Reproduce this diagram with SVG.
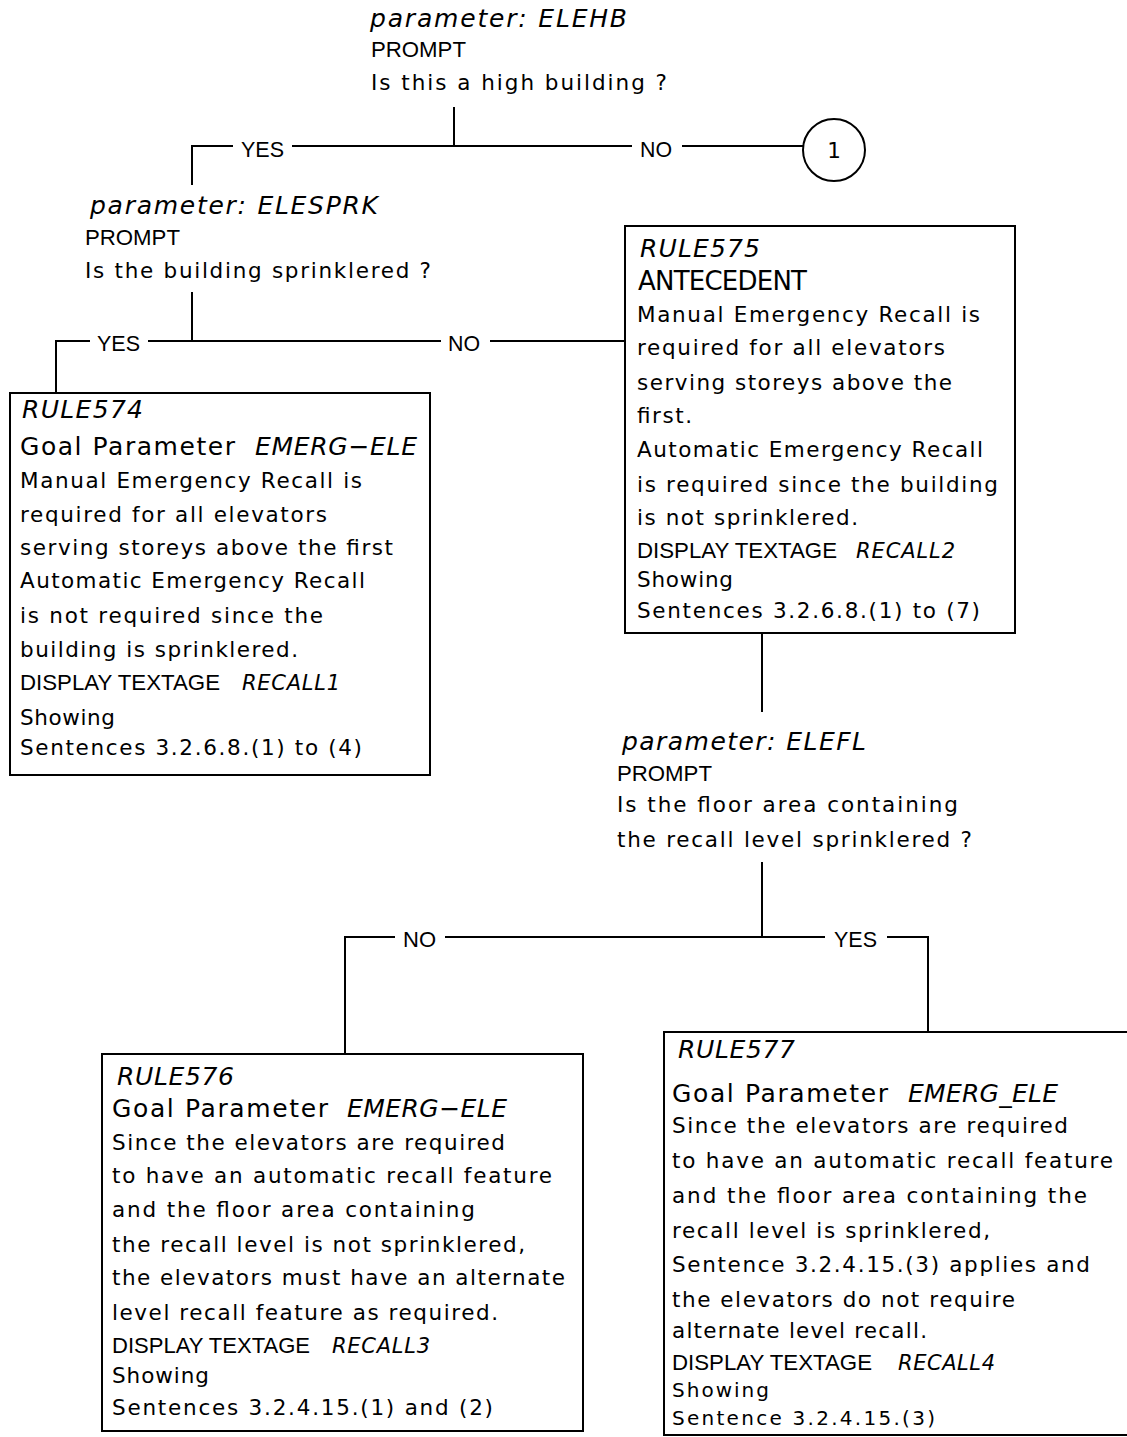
<svg xmlns="http://www.w3.org/2000/svg" width="1127" height="1437" viewBox="0 0 1127 1437">
  <style>
    .bg { fill: #ffffff; }
    .box { fill: none; stroke: #000; stroke-width: 2; }
    .wire { fill: none; stroke: #000; stroke-width: 2; }
    .body { font-family: "DejaVu Sans", "Liberation Sans", sans-serif; font-size: 21.5px; fill: #000; }
    .tight { font-size: 20px; }
    .head { font-family: "DejaVu Sans", "Liberation Sans", sans-serif; font-size: 25px; fill: #000; }
    .big { font-family: "DejaVu Sans", "Liberation Sans", sans-serif; font-size: 26px; fill: #000; }
    .cond { font-family: "Liberation Sans Narrow", "Liberation Sans", sans-serif; font-size: 22px; fill: #000; }
    .ital { font-family: "DejaVu Sans", "Liberation Sans", sans-serif; font-style: italic; font-size: 25px; fill: #000; }
    .itals { font-family: "DejaVu Sans", "Liberation Sans", sans-serif; font-style: italic; font-size: 21px; fill: #000; }
    .lbl { font-family: "Liberation Sans Narrow", "Liberation Sans", sans-serif; font-size: 22px; fill: #000; }
  </style>
  <rect class="bg" x="0" y="0" width="1127" height="1437"/>

  <!-- connectors -->
  <g id="connectors">
    <!-- ELEHB branches -->
    <path class="wire" d="M454,107 V146"/>
    <path class="wire" d="M192,185 V146 H233"/>
    <path class="wire" d="M292,146 H632"/>
    <path class="wire" d="M682,146 H803"/>
    <!-- ELESPRK branches -->
    <path class="wire" d="M192,292 V341"/>
    <path class="wire" d="M56,392 V341 H90"/>
    <path class="wire" d="M148,341 H441"/>
    <path class="wire" d="M490,341 H625"/>
    <!-- RULE575 to ELEFL -->
    <path class="wire" d="M762,633 V712"/>
    <!-- ELEFL branches -->
    <path class="wire" d="M762,862 V937"/>
    <path class="wire" d="M345,1054 V937 H395"/>
    <path class="wire" d="M445,937 H762 H825"/>
    <path class="wire" d="M887,937 H928 V1032"/>
    <!-- branch labels -->
    <text class="lbl" x="241" y="157" textLength="43" lengthAdjust="spacingAndGlyphs">YES</text>
    <text class="lbl" x="640" y="157" textLength="32" lengthAdjust="spacingAndGlyphs">NO</text>
    <text class="lbl" x="97" y="351" textLength="43" lengthAdjust="spacingAndGlyphs">YES</text>
    <text class="lbl" x="448" y="351" textLength="32" lengthAdjust="spacingAndGlyphs">NO</text>
    <text class="lbl" x="403" y="947" textLength="33" lengthAdjust="spacingAndGlyphs">NO</text>
    <text class="lbl" x="834" y="947" textLength="43" lengthAdjust="spacingAndGlyphs">YES</text>
  </g>

  <!-- parameter ELEHB -->
  <g id="param-elehb">
    <text class="ital" x="370" y="27" textLength="257" lengthAdjust="spacing">parameter: ELEHB</text>
    <text class="cond" x="371" y="57" textLength="95" lengthAdjust="spacingAndGlyphs">PROMPT</text>
    <text class="body" x="371" y="90" textLength="296" lengthAdjust="spacing">Is this a high building ?</text>
  </g>

  <!-- off-page connector 1 -->
  <g id="connector-1">
    <circle class="box" cx="834" cy="150" r="31"/>
    <text class="body" x="834" y="158" text-anchor="middle">1</text>
  </g>

  <!-- parameter ELESPRK -->
  <g id="param-elesprk">
    <text class="ital" x="90" y="214" textLength="288" lengthAdjust="spacing">parameter: ELESPRK</text>
    <text class="cond" x="85" y="245" textLength="95" lengthAdjust="spacingAndGlyphs">PROMPT</text>
    <text class="body" x="85" y="278" textLength="346" lengthAdjust="spacing">Is the building sprinklered ?</text>
  </g>

  <!-- RULE574 -->
  <g id="rule574">
    <rect class="box" x="10" y="393" width="420" height="382"/>
    <text class="ital" x="22" y="418" textLength="121" lengthAdjust="spacing">RULE574</text>
    <text class="head" x="20" y="455"><tspan textLength="215" lengthAdjust="spacing">Goal Parameter</tspan><tspan class="ital" x="255" textLength="162" lengthAdjust="spacing">EMERG−ELE</tspan></text>
    <text class="body" x="20" y="488" textLength="342" lengthAdjust="spacing">Manual Emergency Recall is</text>
    <text class="body" x="20" y="522" textLength="307" lengthAdjust="spacing">required for all elevators</text>
    <text class="body" x="20" y="555" textLength="373" lengthAdjust="spacing">serving storeys above the first</text>
    <text class="body" x="20" y="588" textLength="345" lengthAdjust="spacing">Automatic Emergency Recall</text>
    <text class="body" x="20" y="623" textLength="303" lengthAdjust="spacing">is not required since the</text>
    <text class="body" x="20" y="657" textLength="278" lengthAdjust="spacing">building is sprinklered.</text>
    <text class="cond" x="20" y="690" textLength="200" lengthAdjust="spacingAndGlyphs">DISPLAY TEXTAGE</text>
    <text class="itals" x="242" y="690" textLength="98" lengthAdjust="spacing">RECALL1</text>
    <text class="body" x="20" y="725" textLength="95" lengthAdjust="spacing">Showing</text>
    <text class="body" x="20" y="755" textLength="342" lengthAdjust="spacing">Sentences 3.2.6.8.(1) to (4)</text>
  </g>

  <!-- RULE575 -->
  <g id="rule575">
    <rect class="box" x="625" y="226" width="390" height="407"/>
    <text class="ital" x="640" y="257" textLength="120" lengthAdjust="spacing">RULE575</text>
    <text class="big" x="638" y="290" textLength="169" lengthAdjust="spacing">ANTECEDENT</text>
    <text class="body" x="637" y="322" textLength="343" lengthAdjust="spacing">Manual Emergency Recall is</text>
    <text class="body" x="637" y="355" textLength="308" lengthAdjust="spacing">required for all elevators</text>
    <text class="body" x="637" y="390" textLength="315" lengthAdjust="spacing">serving storeys above the</text>
    <text class="body" x="637" y="423" textLength="55" lengthAdjust="spacing">first.</text>
    <text class="body" x="637" y="457" textLength="346" lengthAdjust="spacing">Automatic Emergency Recall</text>
    <text class="body" x="637" y="492" textLength="361" lengthAdjust="spacing">is required since the building</text>
    <text class="body" x="637" y="525" textLength="221" lengthAdjust="spacing">is not sprinklered.</text>
    <text class="cond" x="637" y="558" textLength="200" lengthAdjust="spacingAndGlyphs">DISPLAY TEXTAGE</text>
    <text class="itals" x="856" y="558" textLength="99" lengthAdjust="spacing">RECALL2</text>
    <text class="body" x="637" y="587" textLength="96" lengthAdjust="spacing">Showing</text>
    <text class="body" x="637" y="618" textLength="343" lengthAdjust="spacing">Sentences 3.2.6.8.(1) to (7)</text>
  </g>

  <!-- parameter ELEFL -->
  <g id="param-elefl">
    <text class="ital" x="622" y="750" textLength="244" lengthAdjust="spacing">parameter: ELEFL</text>
    <text class="cond" x="617" y="781" textLength="95" lengthAdjust="spacingAndGlyphs">PROMPT</text>
    <text class="body" x="617" y="812" textLength="341" lengthAdjust="spacing">Is the floor area containing</text>
    <text class="body" x="617" y="847" textLength="355" lengthAdjust="spacing">the recall level sprinklered ?</text>
  </g>

  <!-- RULE576 -->
  <g id="rule576">
    <rect class="box" x="102" y="1054" width="481" height="377"/>
    <text class="ital" x="117" y="1085" textLength="117" lengthAdjust="spacing">RULE576</text>
    <text class="head" x="112" y="1117"><tspan textLength="216" lengthAdjust="spacing">Goal Parameter</tspan><tspan class="ital" x="347" textLength="160" lengthAdjust="spacing">EMERG−ELE</tspan></text>
    <text class="body" x="112" y="1150" textLength="393" lengthAdjust="spacing">Since the elevators are required</text>
    <text class="body" x="112" y="1183" textLength="440" lengthAdjust="spacing">to have an automatic recall feature</text>
    <text class="body" x="112" y="1217" textLength="363" lengthAdjust="spacing">and the floor area containing</text>
    <text class="body" x="112" y="1252" textLength="413" lengthAdjust="spacing">the recall level is not sprinklered,</text>
    <text class="body" x="112" y="1285" textLength="453" lengthAdjust="spacing">the elevators must have an alternate</text>
    <text class="body" x="112" y="1320" textLength="386" lengthAdjust="spacing">level recall feature as required.</text>
    <text class="cond" x="112" y="1353" textLength="198" lengthAdjust="spacingAndGlyphs">DISPLAY TEXTAGE</text>
    <text class="itals" x="332" y="1353" textLength="98" lengthAdjust="spacing">RECALL3</text>
    <text class="body" x="112" y="1383" textLength="97" lengthAdjust="spacing">Showing</text>
    <text class="body" x="112" y="1415" textLength="381" lengthAdjust="spacing">Sentences 3.2.4.15.(1) and (2)</text>
  </g>

  <!-- RULE577 -->
  <g id="rule577">
    <rect class="box" x="664" y="1032" width="480" height="403"/>
    <text class="ital" x="678" y="1058" textLength="117" lengthAdjust="spacing">RULE577</text>
    <text class="head" x="672" y="1102"><tspan textLength="216" lengthAdjust="spacing">Goal Parameter</tspan><tspan class="ital" x="908" textLength="150" lengthAdjust="spacing">EMERG_ELE</tspan></text>
    <text class="body" x="672" y="1133" textLength="396" lengthAdjust="spacing">Since the elevators are required</text>
    <text class="body" x="672" y="1168" textLength="441" lengthAdjust="spacing">to have an automatic recall feature</text>
    <text class="body" x="672" y="1203" textLength="415" lengthAdjust="spacing">and the floor area containing the</text>
    <text class="body" x="672" y="1238" textLength="318" lengthAdjust="spacing">recall level is sprinklered,</text>
    <text class="body" x="672" y="1272" textLength="418" lengthAdjust="spacing">Sentence 3.2.4.15.(3) applies and</text>
    <text class="body" x="672" y="1307" textLength="343" lengthAdjust="spacing">the elevators do not require</text>
    <text class="body" x="672" y="1338" textLength="255" lengthAdjust="spacing">alternate level recall.</text>
    <text class="cond" x="672" y="1370" textLength="200" lengthAdjust="spacingAndGlyphs">DISPLAY TEXTAGE</text>
    <text class="itals" x="898" y="1370" textLength="97" lengthAdjust="spacing">RECALL4</text>
    <text class="body tight" x="672" y="1397" textLength="97" lengthAdjust="spacing">Showing</text>
    <text class="body tight" x="672" y="1425" textLength="263" lengthAdjust="spacing">Sentence 3.2.4.15.(3)</text>
  </g>
</svg>
